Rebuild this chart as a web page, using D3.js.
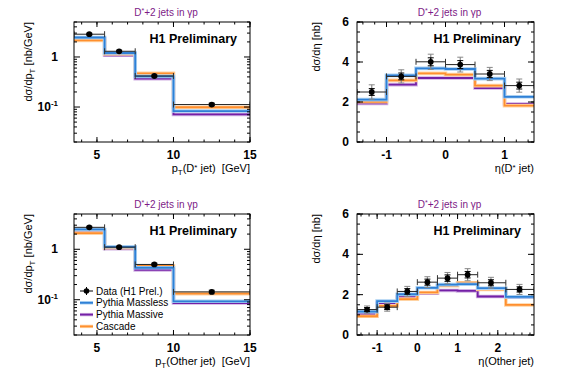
<!DOCTYPE html>
<html>
<head>
<meta charset="utf-8">
<script src="https://cdn.jsdelivr.net/npm/d3@7"></script>
<style>
  body { margin: 0; background: #fff; }
  text { font-family: "Liberation Sans", Arial, Helvetica, sans-serif; }
</style>
</head>
<body>
<svg id="chart" width="567" height="384"></svg>
<script>
// bin edges
var ptEdges = [3.5, 5.5, 7.5, 10, 15];
var etaDEdges = [-1.5, -1, -0.5, 0, 0.5, 1, 1.5];
var etaOEdges = [-1.5, -1, -0.5, 0, 0.5, 1, 1.5, 2.2, 2.9];

// pT(D* jet)
var ptDx = [4.5, 6.45, 8.75, 12.5];
var ptDdata = [2.85, 1.30, 0.417, 0.112];
var ptDstat = [0.07, 0.04, 0.015, 0.005];
var ptDtot = [0.18, 0.09, 0.035, 0.010];
var ptDmassless = [2.45, 1.20, 0.41, 0.083];
var ptDmassive = [2.30, 1.08, 0.37, 0.071];
var ptDcascade = [2.15, 1.15, 0.47, 0.099];

// eta(D* jet)
var etaDx = [-1.25, -0.75, -0.25, 0.25, 0.75, 1.25];
var etaDdata = [2.50, 3.28, 4.01, 3.87, 3.40, 2.82];
var etaDstat = [0.17, 0.17, 0.20, 0.20, 0.18, 0.17];
var etaDtot = [0.36, 0.33, 0.38, 0.37, 0.33, 0.33];
var etaDmassless = [2.12, 3.33, 3.68, 3.65, 3.17, 2.26];
var etaDmassive = [1.93, 2.87, 3.20, 3.20, 2.70, 1.90];
var etaDcascade = [2.01, 3.08, 3.43, 3.37, 2.82, 1.82];

// pT(Other jet)
var ptOx = [4.5, 6.45, 8.75, 12.5];
var ptOdata = [2.72, 1.10, 0.50, 0.143];
var ptOstat = [0.07, 0.03, 0.018, 0.006];
var ptOtot = [0.17, 0.08, 0.04, 0.013];
var ptOmassless = [2.47, 1.12, 0.43, 0.093];
var ptOmassive = [2.23, 1.03, 0.39, 0.086];
var ptOcascade = [2.09, 1.08, 0.47, 0.132];

// eta(Other jet)
var etaOx = [-1.25, -0.75, -0.25, 0.25, 0.75, 1.25, 1.83, 2.54];
var etaOdata = [1.26, 1.38, 2.16, 2.62, 2.82, 2.99, 2.59, 2.26];
var etaOstat = [0.10, 0.12, 0.14, 0.15, 0.16, 0.16, 0.15, 0.13];
var etaOtot = [0.18, 0.20, 0.25, 0.27, 0.28, 0.30, 0.27, 0.25];
var etaOmassless = [1.16, 1.68, 2.02, 2.34, 2.50, 2.52, 2.32, 1.89];
var etaOmassive = [1.03, 1.58, 1.88, 2.07, 2.21, 2.19, 1.91, 1.87];
var etaOcascade = [0.93, 1.44, 1.78, 2.11, 2.44, 2.59, 2.26, 1.49];

// legend
var legendLabels = ["Data (H1 Prel.)", "Pythia Massless", "Pythia Massive", "Cascade"];

var colors = {
  massless: {line: "#2f80d6", light: "#a9d0f2"},
  massive:  {line: "#7420a6", light: "#d0b0e2"},
  cascade:  {line: "#ff8f2e", light: "#ffd3a3"}
};

var svg = d3.select("#chart");
svg.append("rect").attr("width", 567).attr("height", 384).attr("fill", "#fff");

function drawPanel(p) {
  var g = svg.append("g");
  var x = d3.scaleLinear().domain(p.xDomain).range([p.x0, p.x0 + p.w]);
  var y = (p.log ? d3.scaleLog() : d3.scaleLinear()).domain(p.yDomain).range([p.y0 + p.h, p.y0]);

  var clipId = "clip" + p.id;
  svg.append("clipPath").attr("id", clipId)
    .append("rect").attr("x", p.x0).attr("y", p.y0).attr("width", p.w).attr("height", p.h);
  var plot = g.append("g").attr("clip-path", "url(#" + clipId + ")");

  // histograms
  var step = d3.line().curve(d3.curveStepAfter)
    .x(function(d) { return x(d[0]); })
    .y(function(d) { return y(d[1]); });
  p.mc.forEach(function(m) {
    var pts = m.values.map(function(v, i) { return [p.edges[i], v]; });
    pts.push([p.edges[p.edges.length - 1], m.values[m.values.length - 1]]);
    plot.append("path").attr("d", step(pts)).attr("fill", "none")
      .attr("stroke", m.c.light).attr("stroke-width", 3.6);
    plot.append("path").attr("d", step(pts)).attr("fill", "none")
      .attr("stroke", m.c.line).attr("stroke-width", 1.8);
  });

  // data points
  p.dx.forEach(function(xv, i) {
    var yv = p.dy[i], cx = x(xv), cy = y(yv);
    var xl = x(p.edges[i]), xr = x(p.edges[i + 1]);
    // horizontal bar
    plot.append("line").attr("x1", xl).attr("x2", xr).attr("y1", cy).attr("y2", cy)
      .attr("stroke", "#222").attr("stroke-width", 1);
    [xl, xr].forEach(function(xe) {
      plot.append("line").attr("x1", xe).attr("x2", xe).attr("y1", cy - 3).attr("y2", cy + 3)
        .attr("stroke", "#333").attr("stroke-width", 1);
    });
    // total error (grey)
    var t1 = y(yv + p.dtot[i]), t2 = y(Math.max(yv - p.dtot[i], 1e-6));
    plot.append("line").attr("x1", cx).attr("x2", cx).attr("y1", t1).attr("y2", t2)
      .attr("stroke", "#888").attr("stroke-width", 1.2);
    [t1, t2].forEach(function(ye) {
      plot.append("line").attr("x1", cx - 3).attr("x2", cx + 3).attr("y1", ye).attr("y2", ye)
        .attr("stroke", "#888").attr("stroke-width", 1);
    });
    // stat error (black)
    var s1 = y(yv + p.dstat[i]), s2 = y(Math.max(yv - p.dstat[i], 1e-6));
    plot.append("line").attr("x1", cx).attr("x2", cx).attr("y1", s1).attr("y2", s2)
      .attr("stroke", "#000").attr("stroke-width", 1.2);
    [s1, s2].forEach(function(ye) {
      plot.append("line").attr("x1", cx - 3).attr("x2", cx + 3).attr("y1", ye).attr("y2", ye)
        .attr("stroke", "#000").attr("stroke-width", 1);
    });
    plot.append("circle").attr("cx", cx).attr("cy", cy).attr("r", 2.9).attr("fill", "#000");
  });

  // frame
  g.append("rect").attr("x", p.x0).attr("y", p.y0).attr("width", p.w).attr("height", p.h)
    .attr("fill", "none").attr("stroke", "#000").attr("stroke-width", 1);

  // ticks (inside, all four sides)
  function xTick(v, len) {
    var px = x(v);
    g.append("line").attr("x1", px).attr("x2", px).attr("y1", p.y0 + p.h).attr("y2", p.y0 + p.h - len).attr("stroke", "#000");
    g.append("line").attr("x1", px).attr("x2", px).attr("y1", p.y0).attr("y2", p.y0 + len).attr("stroke", "#000");
  }
  function yTick(v, len) {
    var py = y(v);
    g.append("line").attr("x1", p.x0).attr("x2", p.x0 + len).attr("y1", py).attr("y2", py).attr("stroke", "#000");
    g.append("line").attr("x1", p.x0 + p.w).attr("x2", p.x0 + p.w - len).attr("y1", py).attr("y2", py).attr("stroke", "#000");
  }
  p.xMinor.forEach(function(v) { xTick(v, 2.5); });
  p.xMajor.forEach(function(v) { xTick(v, 5); });
  if (p.log) {
    y.ticks().forEach(function(v) {
      var isMajor = Math.abs(Math.log10(v) - Math.round(Math.log10(v))) < 1e-6;
      yTick(v, isMajor ? 6 : 3);
    });
  } else {
    p.yMinor.forEach(function(v) { yTick(v, 3); });
    p.yMajor.forEach(function(v) { yTick(v, 6); });
  }

  // tick labels
  p.xMajor.forEach(function(v) {
    g.append("text").attr("x", x(v)).attr("y", p.y0 + p.h + 17)
      .attr("text-anchor", "middle").attr("font-size", 12).attr("font-weight", "bold")
      .text(v < 0 ? "-" + Math.abs(v) : v);
  });
  p.yLabels.forEach(function(l) {
    var t = g.append("text").attr("x", p.x0 - p.yLabelOff).attr("y", y(l.v) + 4)
      .attr("text-anchor", "end").attr("font-size", 12).attr("font-weight", "bold");
    t.append("tspan").text(l.base);
    if (l.exp) t.append("tspan").attr("font-size", 8).attr("dy", -5).text(l.exp);
  });

  // title
  var tt = g.append("text").attr("x", p.x0 + p.w / 2 + 4).attr("y", p.y0 - 6)
    .attr("text-anchor", "middle").attr("font-size", 10).attr("fill", "#7d1a86");
  tt.append("tspan").text("D");
  tt.append("tspan").attr("font-size", 7).attr("dy", -3).text("*");
  tt.append("tspan").attr("dy", 3).text("+2 jets in \u03b3p");

  // H1 Preliminary
  g.append("text").attr("x", p.x0 + p.w - 13).attr("y", p.y0 + 21)
    .attr("text-anchor", "end").attr("font-size", 12.5).attr("font-weight", "bold")
    .text("H1 Preliminary");

  // x title
  var xt = g.append("text").attr("x", p.x0 + p.w).attr("y", p.y0 + p.h + 30)
    .attr("text-anchor", "end").attr("font-size", 11);
  p.xTitle.forEach(function(s) {
    var ts = xt.append("tspan").text(s.t);
    if (s.size) ts.attr("font-size", s.size);
    if (s.dy) ts.attr("dy", s.dy);
  });

  // y title
  var yt = g.append("text").attr("transform", "translate(" + (p.x0 - p.yTitleOff) + "," + p.y0 + ") rotate(-90)")
    .attr("text-anchor", "end").attr("font-size", 11);
  p.yTitle.forEach(function(s) {
    var ts = yt.append("tspan").text(s.t);
    if (s.size) ts.attr("font-size", s.size);
    if (s.dy) ts.attr("dy", s.dy);
  });

  return {g: g, x: x, y: y};
}

var ptXMinor = d3.range(4, 15.01, 1);
var etaXMinor1 = d3.range(-1.4, 1.41, 0.2);
var etaXMinor2 = d3.range(-1.4, 2.81, 0.2);
var linYMinor = d3.range(0, 6.01, 0.5);
var logLabels = [{v: 1, base: "1"}, {v: 0.1, base: "10", exp: "-1"}];
var linLabels = [0, 2, 4, 6].map(function(v) { return {v: v, base: String(v)}; });

function ptXTitle(name) {
  return [{t: "p"}, {t: "T", size: 8, dy: 3}, {t: "(" + name + ")\u00a0\u00a0[GeV]", dy: -3}];
}
var ptDXTitle = [{t: "p"}, {t: "T", size: 8, dy: 3}, {t: "(D", dy: -3}, {t: "*", size: 8, dy: -2}, {t: " jet)\u00a0\u00a0[GeV]", dy: 2}];
var etaDXTitle = [{t: "\u03b7(D"}, {t: "*", size: 8, dy: -2}, {t: " jet)", dy: 2}];
var ptYTitle = [{t: "d\u03c3/dp"}, {t: "T", size: 8, dy: 3}, {t: " [nb/GeV]", dy: -3}];
var etaYTitle = [{t: "d\u03c3/d\u03b7 [nb]"}];

drawPanel({
  id: 1, x0: 74, y0: 22, w: 176, h: 120, log: true,
  xDomain: [3.5, 15], yDomain: [0.02, 5], edges: ptEdges,
  dx: ptDx, dy: ptDdata, dstat: ptDstat, dtot: ptDtot,
  mc: [{values: ptDmassive, c: colors.massive}, {values: ptDcascade, c: colors.cascade}, {values: ptDmassless, c: colors.massless}],
  xMajor: [5, 10, 15], xMinor: ptXMinor, yLabels: logLabels, yLabelOff: 16, yTitleOff: 42,
  xTitle: ptDXTitle, yTitle: ptYTitle
});

drawPanel({
  id: 2, x0: 357, y0: 22, w: 177, h: 120, log: false,
  xDomain: [-1.5, 1.5], yDomain: [0, 6], edges: etaDEdges,
  dx: etaDx, dy: etaDdata, dstat: etaDstat, dtot: etaDtot,
  mc: [{values: etaDmassive, c: colors.massive}, {values: etaDcascade, c: colors.cascade}, {values: etaDmassless, c: colors.massless}],
  xMajor: [-1, 0, 1], xMinor: etaXMinor1, yMajor: [0, 2, 4, 6], yMinor: linYMinor,
  yLabels: linLabels, yLabelOff: 8, yTitleOff: 37,
  xTitle: etaDXTitle, yTitle: etaYTitle
});

drawPanel({
  id: 3, x0: 74, y0: 214, w: 176, h: 121, log: true,
  xDomain: [3.5, 15], yDomain: [0.02, 5], edges: ptEdges,
  dx: ptOx, dy: ptOdata, dstat: ptOstat, dtot: ptOtot,
  mc: [{values: ptOmassive, c: colors.massive}, {values: ptOcascade, c: colors.cascade}, {values: ptOmassless, c: colors.massless}],
  xMajor: [5, 10, 15], xMinor: ptXMinor, yLabels: logLabels, yLabelOff: 16, yTitleOff: 42,
  xTitle: ptXTitle("Other jet"), yTitle: ptYTitle
});

drawPanel({
  id: 4, x0: 357, y0: 214, w: 177, h: 121, log: false,
  xDomain: [-1.5, 2.9], yDomain: [0, 6], edges: etaOEdges,
  dx: etaOx, dy: etaOdata, dstat: etaOstat, dtot: etaOtot,
  mc: [{values: etaOmassive, c: colors.massive}, {values: etaOcascade, c: colors.cascade}, {values: etaOmassless, c: colors.massless}],
  xMajor: [-1, 0, 1, 2], xMinor: etaXMinor2, yMajor: [0, 2, 4, 6], yMinor: linYMinor,
  yLabels: linLabels, yLabelOff: 8, yTitleOff: 37,
  xTitle: [{t: "\u03b7(Other jet)"}], yTitle: etaYTitle
});

// legend (bottom-left panel)
var leg = svg.append("g");
var legColors = [null, colors.massless, colors.massive, colors.cascade];
legendLabels.forEach(function(label, i) {
  var ly = 291 + i * 11.8;
  if (i === 0) {
    leg.append("line").attr("x1", 80).attr("x2", 93).attr("y1", ly).attr("y2", ly).attr("stroke", "#000");
    leg.append("line").attr("x1", 86.5).attr("x2", 86.5).attr("y1", ly - 4).attr("y2", ly + 4).attr("stroke", "#000");
    leg.append("circle").attr("cx", 86.5).attr("cy", ly).attr("r", 2.8).attr("fill", "#000");
  } else {
    leg.append("line").attr("x1", 80).attr("x2", 93).attr("y1", ly).attr("y2", ly)
      .attr("stroke", legColors[i].light).attr("stroke-width", 3.4);
    leg.append("line").attr("x1", 80).attr("x2", 93).attr("y1", ly).attr("y2", ly)
      .attr("stroke", legColors[i].line).attr("stroke-width", 1.8);
  }
  leg.append("text").attr("x", 96).attr("y", ly + 3.6).attr("font-size", 10).text(label);
});
</script>
</body>
</html>
